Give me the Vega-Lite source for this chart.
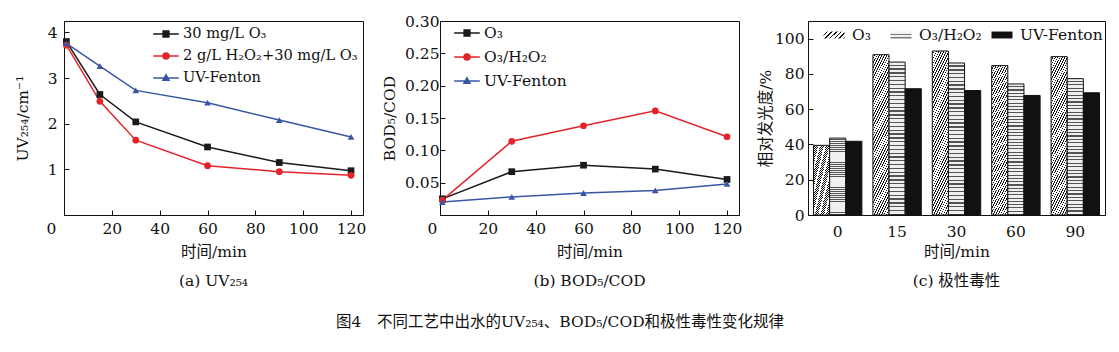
{
 "$schema": "https://vega.github.io/schema/vega-lite/v6.json",
 "padding": {"left": 14, "top": 13, "right": 5, "bottom": 5},
 "background": "white",
 "spacing": 14,
 "title": {"text": "图4　不同工艺中出水的UV₂₅₄、BOD₅/COD和极性毒性变化规律", "orient": "bottom", "anchor": "middle", "offset": 25, "fontSize": 15.5, "fontWeight": "normal", "font": "DejaVu Serif, Noto Sans CJK SC", "color": "#111"},
 "resolve": {"scale": {"color": "independent", "shape": "independent", "stroke": "independent", "strokeDash": "independent"}, "legend": {"color": "independent", "shape": "independent", "stroke": "independent", "strokeDash": "independent"}},
 "config": {
  "font": "DejaVu Serif, Noto Sans CJK SC",
  "view": {"stroke": "#111", "strokeWidth": 1},
  "axis": {"grid": false, "domainColor": "#111", "tickColor": "#111", "tickSize": -5, "tickWidth": 1, "labelFont": "DejaVu Serif", "labelFontSize": 15.5, "labelColor": "#111", "titleFont": "DejaVu Serif, Noto Sans CJK SC", "titleFontSize": 15.5, "titleFontWeight": "normal", "titleColor": "#111"},
  "legend": {"labelFont": "DejaVu Serif", "labelFontSize": 15.5, "labelColor": "#111", "labelLimit": 320}
 },
 "datasets": {
  "uv": [
   {"time": 1, "uv": 3.80, "series": "30 mg/L O₃"},
   {"time": 15, "uv": 2.64, "series": "30 mg/L O₃"},
   {"time": 30, "uv": 2.04, "series": "30 mg/L O₃"},
   {"time": 60, "uv": 1.49, "series": "30 mg/L O₃"},
   {"time": 90, "uv": 1.15, "series": "30 mg/L O₃"},
   {"time": 120, "uv": 0.97, "series": "30 mg/L O₃"},
   {"time": 1, "uv": 3.72, "series": "2 g/L H₂O₂+30 mg/L O₃"},
   {"time": 15, "uv": 2.49, "series": "2 g/L H₂O₂+30 mg/L O₃"},
   {"time": 30, "uv": 1.64, "series": "2 g/L H₂O₂+30 mg/L O₃"},
   {"time": 60, "uv": 1.08, "series": "2 g/L H₂O₂+30 mg/L O₃"},
   {"time": 90, "uv": 0.95, "series": "2 g/L H₂O₂+30 mg/L O₃"},
   {"time": 120, "uv": 0.87, "series": "2 g/L H₂O₂+30 mg/L O₃"},
   {"time": 1, "uv": 3.76, "series": "UV-Fenton"},
   {"time": 15, "uv": 3.26, "series": "UV-Fenton"},
   {"time": 30, "uv": 2.73, "series": "UV-Fenton"},
   {"time": 60, "uv": 2.46, "series": "UV-Fenton"},
   {"time": 90, "uv": 2.08, "series": "UV-Fenton"},
   {"time": 120, "uv": 1.71, "series": "UV-Fenton"}
  ],
  "bod": [
   {"time": 1, "ratio": 0.025, "series": "O₃"},
   {"time": 30, "ratio": 0.067, "series": "O₃"},
   {"time": 60, "ratio": 0.077, "series": "O₃"},
   {"time": 90, "ratio": 0.071, "series": "O₃"},
   {"time": 120, "ratio": 0.055, "series": "O₃"},
   {"time": 1, "ratio": 0.023, "series": "O₃/H₂O₂"},
   {"time": 30, "ratio": 0.114, "series": "O₃/H₂O₂"},
   {"time": 60, "ratio": 0.138, "series": "O₃/H₂O₂"},
   {"time": 90, "ratio": 0.161, "series": "O₃/H₂O₂"},
   {"time": 120, "ratio": 0.121, "series": "O₃/H₂O₂"},
   {"time": 1, "ratio": 0.020, "series": "UV-Fenton"},
   {"time": 30, "ratio": 0.028, "series": "UV-Fenton"},
   {"time": 60, "ratio": 0.034, "series": "UV-Fenton"},
   {"time": 90, "ratio": 0.038, "series": "UV-Fenton"},
   {"time": 120, "ratio": 0.048, "series": "UV-Fenton"}
  ],
  "tox": [
   {"time": 0, "value": 39.5, "process": "O₃"},
   {"time": 0, "value": 43.6, "process": "O₃/H₂O₂"},
   {"time": 0, "value": 41.8, "process": "UV-Fenton"},
   {"time": 15, "value": 90.9, "process": "O₃"},
   {"time": 15, "value": 86.7, "process": "O₃/H₂O₂"},
   {"time": 15, "value": 71.6, "process": "UV-Fenton"},
   {"time": 30, "value": 93.0, "process": "O₃"},
   {"time": 30, "value": 86.2, "process": "O₃/H₂O₂"},
   {"time": 30, "value": 70.6, "process": "UV-Fenton"},
   {"time": 60, "value": 84.7, "process": "O₃"},
   {"time": 60, "value": 74.3, "process": "O₃/H₂O₂"},
   {"time": 60, "value": 67.8, "process": "UV-Fenton"},
   {"time": 90, "value": 89.8, "process": "O₃"},
   {"time": 90, "value": 77.3, "process": "O₃/H₂O₂"},
   {"time": 90, "value": 69.3, "process": "UV-Fenton"}
  ]
 },
 "hconcat": [
  {
   "width": 299, "height": 194,
   "data": {"name": "uv"},
   "title": {"text": "(a) UV₂₅₄", "orient": "bottom", "offset": 14, "fontSize": 15.5, "fontWeight": "normal", "font": "DejaVu Serif", "color": "#111"},
   "resolve": {"scale": {"color": "independent", "shape": "independent", "stroke": "independent"}, "legend": {"color": "independent", "shape": "independent", "stroke": "independent"}},
   "encoding": {
    "x": {"field": "time", "type": "quantitative", "scale": {"domain": [0, 125], "nice": false}, "axis": {"values": [0, 20, 40, 60, 80, 100, 120], "title": "时间/min", "labelFlush": false, "labelOffset": {"condition": {"test": "datum.value === 0", "value": -13}, "value": 0}, "labelPadding": 11, "titlePadding": 8}},
    "y": {"field": "uv", "type": "quantitative", "scale": {"domain": [0, 4.25], "nice": false}, "axis": {"values": [1, 2, 3, 4], "title": "UV₂₅₄/cm⁻¹", "labelPadding": 12, "titlePadding": 17}}
   },
   "layer": [
    {"mark": {"type": "line", "strokeWidth": 1.5},
     "encoding": {"color": {"field": "series", "type": "nominal", "scale": {"domain": ["30 mg/L O₃", "2 g/L H₂O₂+30 mg/L O₃", "UV-Fenton"], "range": ["#1a1a1a", "#e3242b", "#3b55a5"]}, "legend": null}}},
    {"mark": {"type": "point", "filled": true, "size": 45, "opacity": 1},
     "encoding": {
      "color": {"field": "series", "type": "nominal", "scale": {"domain": ["30 mg/L O₃", "2 g/L H₂O₂+30 mg/L O₃", "UV-Fenton"], "range": ["#1a1a1a", "#e3242b", "#3b55a5"]}, "legend": null},
      "shape": {"field": "series", "type": "nominal", "scale": {"domain": ["30 mg/L O₃", "2 g/L H₂O₂+30 mg/L O₃", "UV-Fenton"], "range": ["square", "circle", "triangle-up"]}, "legend": null}}},
    {"mark": {"type": "point", "filled": true, "size": 256, "opacity": 0, "strokeWidth": 1.5},
     "encoding": {
      "color": {"field": "series", "type": "nominal", "scale": {"domain": ["30 mg/L O₃", "2 g/L H₂O₂+30 mg/L O₃", "UV-Fenton"], "range": ["#1a1a1a", "#e3242b", "#3b55a5"]},
       "legend": {"title": null, "orient": "none", "legendX": 93, "legendY": 4, "symbolSize": 256, "symbolOpacity": 1, "symbolStrokeWidth": 1.5, "labelOffset": 8, "rowPadding": 6, "labelFontSize": 14.6}},
      "stroke": {"field": "series", "type": "nominal", "scale": {"domain": ["30 mg/L O₃", "2 g/L H₂O₂+30 mg/L O₃", "UV-Fenton"], "range": ["#1a1a1a", "#e3242b", "#3b55a5"]},
       "legend": {"title": null, "orient": "none", "legendX": 93, "legendY": 4, "symbolSize": 256, "symbolOpacity": 1, "symbolStrokeWidth": 1.5, "labelOffset": 8, "rowPadding": 6, "labelFontSize": 14.6}},
      "shape": {"field": "series", "type": "nominal", "scale": {"domain": ["30 mg/L O₃", "2 g/L H₂O₂+30 mg/L O₃", "UV-Fenton"], "range": ["M-1.6,0H1.6M-0.36,-0.36H0.36V0.36H-0.36Z", "M-1.6,0H1.6M0.38,0A0.38,0.38 0 1,1 -0.38,0A0.38,0.38 0 1,1 0.38,0Z", "M-1.6,0H1.6M0,-0.4L0.38,0.28H-0.38Z"]},
       "legend": {"title": null, "orient": "none", "legendX": 93, "legendY": 4, "symbolSize": 256, "symbolOpacity": 1, "symbolStrokeWidth": 1.5, "labelOffset": 8, "rowPadding": 6, "labelFontSize": 14.6}}}}
   ]
  },
  {
   "width": 299, "height": 194,
   "data": {"name": "bod"},
   "title": {"text": "(b) BOD₅/COD", "orient": "bottom", "offset": 14, "fontSize": 15.5, "fontWeight": "normal", "font": "DejaVu Serif", "color": "#111"},
   "resolve": {"scale": {"color": "independent", "shape": "independent", "stroke": "independent"}, "legend": {"color": "independent", "shape": "independent", "stroke": "independent"}},
   "encoding": {
    "x": {"field": "time", "type": "quantitative", "scale": {"domain": [0, 125], "nice": false}, "axis": {"values": [0, 20, 40, 60, 80, 100, 120], "title": "时间/min", "labelFlush": false, "labelOffset": {"condition": {"test": "datum.value === 0", "value": -8}, "value": 0}, "labelPadding": 11, "titlePadding": 8}},
    "y": {"field": "ratio", "type": "quantitative", "scale": {"domain": [0, 0.3], "nice": false}, "axis": {"values": [0.05, 0.1, 0.15, 0.2, 0.25, 0.3], "format": ".2f", "title": "BOD₅/COD", "labelPadding": 6, "titlePadding": 7}}
   },
   "layer": [
    {"mark": {"type": "line", "strokeWidth": 1.5},
     "encoding": {"color": {"field": "series", "type": "nominal", "scale": {"domain": ["O₃", "O₃/H₂O₂", "UV-Fenton"], "range": ["#1a1a1a", "#e3242b", "#3b55a5"]}, "legend": null}}},
    {"mark": {"type": "point", "filled": true, "size": 45, "opacity": 1},
     "encoding": {
      "color": {"field": "series", "type": "nominal", "scale": {"domain": ["O₃", "O₃/H₂O₂", "UV-Fenton"], "range": ["#1a1a1a", "#e3242b", "#3b55a5"]}, "legend": null},
      "shape": {"field": "series", "type": "nominal", "scale": {"domain": ["O₃", "O₃/H₂O₂", "UV-Fenton"], "range": ["square", "circle", "triangle-up"]}, "legend": null}}},
    {"mark": {"type": "point", "filled": true, "size": 256, "opacity": 0, "strokeWidth": 1.5},
     "encoding": {
      "color": {"field": "series", "type": "nominal", "scale": {"domain": ["O₃", "O₃/H₂O₂", "UV-Fenton"], "range": ["#1a1a1a", "#e3242b", "#3b55a5"]},
       "legend": {"title": null, "orient": "none", "legendX": 18, "legendY": 3, "symbolSize": 256, "symbolOpacity": 1, "symbolStrokeWidth": 1.5, "labelOffset": 8, "rowPadding": 6}},
      "stroke": {"field": "series", "type": "nominal", "scale": {"domain": ["O₃", "O₃/H₂O₂", "UV-Fenton"], "range": ["#1a1a1a", "#e3242b", "#3b55a5"]},
       "legend": {"title": null, "orient": "none", "legendX": 18, "legendY": 3, "symbolSize": 256, "symbolOpacity": 1, "symbolStrokeWidth": 1.5, "labelOffset": 8, "rowPadding": 6}},
      "shape": {"field": "series", "type": "nominal", "scale": {"domain": ["O₃", "O₃/H₂O₂", "UV-Fenton"], "range": ["M-1.6,0H1.6M-0.36,-0.36H0.36V0.36H-0.36Z", "M-1.6,0H1.6M0.38,0A0.38,0.38 0 1,1 -0.38,0A0.38,0.38 0 1,1 0.38,0Z", "M-1.6,0H1.6M0,-0.4L0.38,0.28H-0.38Z"]},
       "legend": {"title": null, "orient": "none", "legendX": 18, "legendY": 3, "symbolSize": 256, "symbolOpacity": 1, "symbolStrokeWidth": 1.5, "labelOffset": 8, "rowPadding": 6}}}}
   ]
  },
  {
   "width": 297, "height": 194,
   "data": {"name": "tox"},
   "title": {"text": "(c) 极性毒性", "orient": "bottom", "offset": 14, "fontSize": 15.5, "fontWeight": "normal", "font": "DejaVu Serif, Noto Sans CJK SC", "color": "#111"},
   "resolve": {"scale": {"strokeDash": "independent"}, "legend": {"strokeDash": "independent"}},
   "encoding": {
    "x": {"field": "time", "type": "ordinal", "scale": {"domain": [0, 15, 30, 60, 90], "paddingInner": 0.185, "paddingOuter": 0.0925}, "axis": {"labelAngle": 0, "ticks": false, "title": "时间/min", "labelPadding": 9, "titlePadding": 5}},
    "xOffset": {"field": "process", "type": "nominal", "scale": {"domain": ["O₃", "O₃/H₂O₂", "UV-Fenton"], "paddingInner": 0, "paddingOuter": 0}},
    "y": {"field": "value", "type": "quantitative", "scale": {"domain": [0, 110], "nice": false}, "axis": {"values": [0, 20, 40, 60, 80, 100], "title": "相对发光度/%", "labelPadding": 9, "titlePadding": 1}}
   },
   "layer": [
    {"transform": [{"filter": "datum.process === 'O₃'"}],
     "mark": {"type": "bar", "stroke": "#111", "strokeWidth": 1,
      "fill": {"gradient": "linear", "x1": 0, "y1": 0, "x2": 0.23, "y2": 1.154, "stops": [
       {"offset": 0, "color": "#fff"}, {"offset": 0.0165, "color": "#fff"}, {"offset": 0.0165, "color": "#111"}, {"offset": 0.025, "color": "#111"},
       {"offset": 0.025, "color": "#fff"}, {"offset": 0.0415, "color": "#fff"}, {"offset": 0.0415, "color": "#111"}, {"offset": 0.05, "color": "#111"},
       {"offset": 0.05, "color": "#fff"}, {"offset": 0.0665, "color": "#fff"}, {"offset": 0.0665, "color": "#111"}, {"offset": 0.075, "color": "#111"},
       {"offset": 0.075, "color": "#fff"}, {"offset": 0.0915, "color": "#fff"}, {"offset": 0.0915, "color": "#111"}, {"offset": 0.1, "color": "#111"},
       {"offset": 0.1, "color": "#fff"}, {"offset": 0.1165, "color": "#fff"}, {"offset": 0.1165, "color": "#111"}, {"offset": 0.125, "color": "#111"},
       {"offset": 0.125, "color": "#fff"}, {"offset": 0.1415, "color": "#fff"}, {"offset": 0.1415, "color": "#111"}, {"offset": 0.15, "color": "#111"},
       {"offset": 0.15, "color": "#fff"}, {"offset": 0.1665, "color": "#fff"}, {"offset": 0.1665, "color": "#111"}, {"offset": 0.175, "color": "#111"},
       {"offset": 0.175, "color": "#fff"}, {"offset": 0.1915, "color": "#fff"}, {"offset": 0.1915, "color": "#111"}, {"offset": 0.2, "color": "#111"},
       {"offset": 0.2, "color": "#fff"}, {"offset": 0.2165, "color": "#fff"}, {"offset": 0.2165, "color": "#111"}, {"offset": 0.225, "color": "#111"},
       {"offset": 0.225, "color": "#fff"}, {"offset": 0.2415, "color": "#fff"}, {"offset": 0.2415, "color": "#111"}, {"offset": 0.25, "color": "#111"},
       {"offset": 0.25, "color": "#fff"}, {"offset": 0.2665, "color": "#fff"}, {"offset": 0.2665, "color": "#111"}, {"offset": 0.275, "color": "#111"},
       {"offset": 0.275, "color": "#fff"}, {"offset": 0.2915, "color": "#fff"}, {"offset": 0.2915, "color": "#111"}, {"offset": 0.3, "color": "#111"},
       {"offset": 0.3, "color": "#fff"}, {"offset": 0.3165, "color": "#fff"}, {"offset": 0.3165, "color": "#111"}, {"offset": 0.325, "color": "#111"},
       {"offset": 0.325, "color": "#fff"}, {"offset": 0.3415, "color": "#fff"}, {"offset": 0.3415, "color": "#111"}, {"offset": 0.35, "color": "#111"},
       {"offset": 0.35, "color": "#fff"}, {"offset": 0.3665, "color": "#fff"}, {"offset": 0.3665, "color": "#111"}, {"offset": 0.375, "color": "#111"},
       {"offset": 0.375, "color": "#fff"}, {"offset": 0.3915, "color": "#fff"}, {"offset": 0.3915, "color": "#111"}, {"offset": 0.4, "color": "#111"},
       {"offset": 0.4, "color": "#fff"}, {"offset": 0.4165, "color": "#fff"}, {"offset": 0.4165, "color": "#111"}, {"offset": 0.425, "color": "#111"},
       {"offset": 0.425, "color": "#fff"}, {"offset": 0.4415, "color": "#fff"}, {"offset": 0.4415, "color": "#111"}, {"offset": 0.45, "color": "#111"},
       {"offset": 0.45, "color": "#fff"}, {"offset": 0.4665, "color": "#fff"}, {"offset": 0.4665, "color": "#111"}, {"offset": 0.475, "color": "#111"},
       {"offset": 0.475, "color": "#fff"}, {"offset": 0.4915, "color": "#fff"}, {"offset": 0.4915, "color": "#111"}, {"offset": 0.5, "color": "#111"},
       {"offset": 0.5, "color": "#fff"}, {"offset": 0.5165, "color": "#fff"}, {"offset": 0.5165, "color": "#111"}, {"offset": 0.525, "color": "#111"},
       {"offset": 0.525, "color": "#fff"}, {"offset": 0.5415, "color": "#fff"}, {"offset": 0.5415, "color": "#111"}, {"offset": 0.55, "color": "#111"},
       {"offset": 0.55, "color": "#fff"}, {"offset": 0.5665, "color": "#fff"}, {"offset": 0.5665, "color": "#111"}, {"offset": 0.575, "color": "#111"},
       {"offset": 0.575, "color": "#fff"}, {"offset": 0.5915, "color": "#fff"}, {"offset": 0.5915, "color": "#111"}, {"offset": 0.6, "color": "#111"},
       {"offset": 0.6, "color": "#fff"}, {"offset": 0.6165, "color": "#fff"}, {"offset": 0.6165, "color": "#111"}, {"offset": 0.625, "color": "#111"},
       {"offset": 0.625, "color": "#fff"}, {"offset": 0.6415, "color": "#fff"}, {"offset": 0.6415, "color": "#111"}, {"offset": 0.65, "color": "#111"},
       {"offset": 0.65, "color": "#fff"}, {"offset": 0.6665, "color": "#fff"}, {"offset": 0.6665, "color": "#111"}, {"offset": 0.675, "color": "#111"},
       {"offset": 0.675, "color": "#fff"}, {"offset": 0.6915, "color": "#fff"}, {"offset": 0.6915, "color": "#111"}, {"offset": 0.7, "color": "#111"},
       {"offset": 0.7, "color": "#fff"}, {"offset": 0.7165, "color": "#fff"}, {"offset": 0.7165, "color": "#111"}, {"offset": 0.725, "color": "#111"},
       {"offset": 0.725, "color": "#fff"}, {"offset": 0.7415, "color": "#fff"}, {"offset": 0.7415, "color": "#111"}, {"offset": 0.75, "color": "#111"},
       {"offset": 0.75, "color": "#fff"}, {"offset": 0.7665, "color": "#fff"}, {"offset": 0.7665, "color": "#111"}, {"offset": 0.775, "color": "#111"},
       {"offset": 0.775, "color": "#fff"}, {"offset": 0.7915, "color": "#fff"}, {"offset": 0.7915, "color": "#111"}, {"offset": 0.8, "color": "#111"},
       {"offset": 0.8, "color": "#fff"}, {"offset": 0.8165, "color": "#fff"}, {"offset": 0.8165, "color": "#111"}, {"offset": 0.825, "color": "#111"},
       {"offset": 0.825, "color": "#fff"}, {"offset": 0.8415, "color": "#fff"}, {"offset": 0.8415, "color": "#111"}, {"offset": 0.85, "color": "#111"},
       {"offset": 0.85, "color": "#fff"}, {"offset": 0.8665, "color": "#fff"}, {"offset": 0.8665, "color": "#111"}, {"offset": 0.875, "color": "#111"},
       {"offset": 0.875, "color": "#fff"}, {"offset": 0.8915, "color": "#fff"}, {"offset": 0.8915, "color": "#111"}, {"offset": 0.9, "color": "#111"},
       {"offset": 0.9, "color": "#fff"}, {"offset": 0.9165, "color": "#fff"}, {"offset": 0.9165, "color": "#111"}, {"offset": 0.925, "color": "#111"},
       {"offset": 0.925, "color": "#fff"}, {"offset": 0.9415, "color": "#fff"}, {"offset": 0.9415, "color": "#111"}, {"offset": 0.95, "color": "#111"},
       {"offset": 0.95, "color": "#fff"}, {"offset": 0.9665, "color": "#fff"}, {"offset": 0.9665, "color": "#111"}, {"offset": 0.975, "color": "#111"},
       {"offset": 0.975, "color": "#fff"}, {"offset": 0.9915, "color": "#fff"}, {"offset": 0.9915, "color": "#111"}, {"offset": 1, "color": "#111"}
      ]}}},
    {"transform": [{"filter": "datum.process === 'O₃/H₂O₂'"}],
     "mark": {"type": "bar", "stroke": "#111", "strokeWidth": 1,
      "fill": {"gradient": "linear", "x1": 0, "y1": 0, "x2": 0, "y2": 1, "stops": [
       {"offset": 0, "color": "#f0f0f0"}, {"offset": 0.0165, "color": "#f0f0f0"}, {"offset": 0.0165, "color": "#555"}, {"offset": 0.025, "color": "#555"},
       {"offset": 0.025, "color": "#f0f0f0"}, {"offset": 0.0415, "color": "#f0f0f0"}, {"offset": 0.0415, "color": "#555"}, {"offset": 0.05, "color": "#555"},
       {"offset": 0.05, "color": "#f0f0f0"}, {"offset": 0.0665, "color": "#f0f0f0"}, {"offset": 0.0665, "color": "#555"}, {"offset": 0.075, "color": "#555"},
       {"offset": 0.075, "color": "#f0f0f0"}, {"offset": 0.0915, "color": "#f0f0f0"}, {"offset": 0.0915, "color": "#555"}, {"offset": 0.1, "color": "#555"},
       {"offset": 0.1, "color": "#f0f0f0"}, {"offset": 0.1165, "color": "#f0f0f0"}, {"offset": 0.1165, "color": "#555"}, {"offset": 0.125, "color": "#555"},
       {"offset": 0.125, "color": "#f0f0f0"}, {"offset": 0.1415, "color": "#f0f0f0"}, {"offset": 0.1415, "color": "#555"}, {"offset": 0.15, "color": "#555"},
       {"offset": 0.15, "color": "#f0f0f0"}, {"offset": 0.1665, "color": "#f0f0f0"}, {"offset": 0.1665, "color": "#555"}, {"offset": 0.175, "color": "#555"},
       {"offset": 0.175, "color": "#f0f0f0"}, {"offset": 0.1915, "color": "#f0f0f0"}, {"offset": 0.1915, "color": "#555"}, {"offset": 0.2, "color": "#555"},
       {"offset": 0.2, "color": "#f0f0f0"}, {"offset": 0.2165, "color": "#f0f0f0"}, {"offset": 0.2165, "color": "#555"}, {"offset": 0.225, "color": "#555"},
       {"offset": 0.225, "color": "#f0f0f0"}, {"offset": 0.2415, "color": "#f0f0f0"}, {"offset": 0.2415, "color": "#555"}, {"offset": 0.25, "color": "#555"},
       {"offset": 0.25, "color": "#f0f0f0"}, {"offset": 0.2665, "color": "#f0f0f0"}, {"offset": 0.2665, "color": "#555"}, {"offset": 0.275, "color": "#555"},
       {"offset": 0.275, "color": "#f0f0f0"}, {"offset": 0.2915, "color": "#f0f0f0"}, {"offset": 0.2915, "color": "#555"}, {"offset": 0.3, "color": "#555"},
       {"offset": 0.3, "color": "#f0f0f0"}, {"offset": 0.3165, "color": "#f0f0f0"}, {"offset": 0.3165, "color": "#555"}, {"offset": 0.325, "color": "#555"},
       {"offset": 0.325, "color": "#f0f0f0"}, {"offset": 0.3415, "color": "#f0f0f0"}, {"offset": 0.3415, "color": "#555"}, {"offset": 0.35, "color": "#555"},
       {"offset": 0.35, "color": "#f0f0f0"}, {"offset": 0.3665, "color": "#f0f0f0"}, {"offset": 0.3665, "color": "#555"}, {"offset": 0.375, "color": "#555"},
       {"offset": 0.375, "color": "#f0f0f0"}, {"offset": 0.3915, "color": "#f0f0f0"}, {"offset": 0.3915, "color": "#555"}, {"offset": 0.4, "color": "#555"},
       {"offset": 0.4, "color": "#f0f0f0"}, {"offset": 0.4165, "color": "#f0f0f0"}, {"offset": 0.4165, "color": "#555"}, {"offset": 0.425, "color": "#555"},
       {"offset": 0.425, "color": "#f0f0f0"}, {"offset": 0.4415, "color": "#f0f0f0"}, {"offset": 0.4415, "color": "#555"}, {"offset": 0.45, "color": "#555"},
       {"offset": 0.45, "color": "#f0f0f0"}, {"offset": 0.4665, "color": "#f0f0f0"}, {"offset": 0.4665, "color": "#555"}, {"offset": 0.475, "color": "#555"},
       {"offset": 0.475, "color": "#f0f0f0"}, {"offset": 0.4915, "color": "#f0f0f0"}, {"offset": 0.4915, "color": "#555"}, {"offset": 0.5, "color": "#555"},
       {"offset": 0.5, "color": "#f0f0f0"}, {"offset": 0.5165, "color": "#f0f0f0"}, {"offset": 0.5165, "color": "#555"}, {"offset": 0.525, "color": "#555"},
       {"offset": 0.525, "color": "#f0f0f0"}, {"offset": 0.5415, "color": "#f0f0f0"}, {"offset": 0.5415, "color": "#555"}, {"offset": 0.55, "color": "#555"},
       {"offset": 0.55, "color": "#f0f0f0"}, {"offset": 0.5665, "color": "#f0f0f0"}, {"offset": 0.5665, "color": "#555"}, {"offset": 0.575, "color": "#555"},
       {"offset": 0.575, "color": "#f0f0f0"}, {"offset": 0.5915, "color": "#f0f0f0"}, {"offset": 0.5915, "color": "#555"}, {"offset": 0.6, "color": "#555"},
       {"offset": 0.6, "color": "#f0f0f0"}, {"offset": 0.6165, "color": "#f0f0f0"}, {"offset": 0.6165, "color": "#555"}, {"offset": 0.625, "color": "#555"},
       {"offset": 0.625, "color": "#f0f0f0"}, {"offset": 0.6415, "color": "#f0f0f0"}, {"offset": 0.6415, "color": "#555"}, {"offset": 0.65, "color": "#555"},
       {"offset": 0.65, "color": "#f0f0f0"}, {"offset": 0.6665, "color": "#f0f0f0"}, {"offset": 0.6665, "color": "#555"}, {"offset": 0.675, "color": "#555"},
       {"offset": 0.675, "color": "#f0f0f0"}, {"offset": 0.6915, "color": "#f0f0f0"}, {"offset": 0.6915, "color": "#555"}, {"offset": 0.7, "color": "#555"},
       {"offset": 0.7, "color": "#f0f0f0"}, {"offset": 0.7165, "color": "#f0f0f0"}, {"offset": 0.7165, "color": "#555"}, {"offset": 0.725, "color": "#555"},
       {"offset": 0.725, "color": "#f0f0f0"}, {"offset": 0.7415, "color": "#f0f0f0"}, {"offset": 0.7415, "color": "#555"}, {"offset": 0.75, "color": "#555"},
       {"offset": 0.75, "color": "#f0f0f0"}, {"offset": 0.7665, "color": "#f0f0f0"}, {"offset": 0.7665, "color": "#555"}, {"offset": 0.775, "color": "#555"},
       {"offset": 0.775, "color": "#f0f0f0"}, {"offset": 0.7915, "color": "#f0f0f0"}, {"offset": 0.7915, "color": "#555"}, {"offset": 0.8, "color": "#555"},
       {"offset": 0.8, "color": "#f0f0f0"}, {"offset": 0.8165, "color": "#f0f0f0"}, {"offset": 0.8165, "color": "#555"}, {"offset": 0.825, "color": "#555"},
       {"offset": 0.825, "color": "#f0f0f0"}, {"offset": 0.8415, "color": "#f0f0f0"}, {"offset": 0.8415, "color": "#555"}, {"offset": 0.85, "color": "#555"},
       {"offset": 0.85, "color": "#f0f0f0"}, {"offset": 0.8665, "color": "#f0f0f0"}, {"offset": 0.8665, "color": "#555"}, {"offset": 0.875, "color": "#555"},
       {"offset": 0.875, "color": "#f0f0f0"}, {"offset": 0.8915, "color": "#f0f0f0"}, {"offset": 0.8915, "color": "#555"}, {"offset": 0.9, "color": "#555"},
       {"offset": 0.9, "color": "#f0f0f0"}, {"offset": 0.9165, "color": "#f0f0f0"}, {"offset": 0.9165, "color": "#555"}, {"offset": 0.925, "color": "#555"},
       {"offset": 0.925, "color": "#f0f0f0"}, {"offset": 0.9415, "color": "#f0f0f0"}, {"offset": 0.9415, "color": "#555"}, {"offset": 0.95, "color": "#555"},
       {"offset": 0.95, "color": "#f0f0f0"}, {"offset": 0.9665, "color": "#f0f0f0"}, {"offset": 0.9665, "color": "#555"}, {"offset": 0.975, "color": "#555"},
       {"offset": 0.975, "color": "#f0f0f0"}, {"offset": 0.9915, "color": "#f0f0f0"}, {"offset": 0.9915, "color": "#555"}, {"offset": 1, "color": "#555"}
      ]}}},
    {"transform": [{"filter": "datum.process === 'UV-Fenton'"}],
     "mark": {"type": "bar", "stroke": "#111", "strokeWidth": 1, "fill": "#111"}},
    {"transform": [{"filter": "datum.process === 'O₃'"}],
     "mark": {"type": "bar", "opacity": 0, "stroke": "#111", "strokeWidth": 1,
      "fill": {"gradient": "linear", "x1": 0, "y1": 0, "x2": 1.2, "y2": 0.4, "stops": [
       {"offset": 0, "color": "#fff"}, {"offset": 0.11, "color": "#fff"}, {"offset": 0.11, "color": "#111"}, {"offset": 0.167, "color": "#111"},
       {"offset": 0.167, "color": "#fff"}, {"offset": 0.277, "color": "#fff"}, {"offset": 0.277, "color": "#111"}, {"offset": 0.333, "color": "#111"},
       {"offset": 0.333, "color": "#fff"}, {"offset": 0.443, "color": "#fff"}, {"offset": 0.443, "color": "#111"}, {"offset": 0.5, "color": "#111"},
       {"offset": 0.5, "color": "#fff"}, {"offset": 0.61, "color": "#fff"}, {"offset": 0.61, "color": "#111"}, {"offset": 0.667, "color": "#111"},
       {"offset": 0.667, "color": "#fff"}, {"offset": 0.777, "color": "#fff"}, {"offset": 0.777, "color": "#111"}, {"offset": 0.833, "color": "#111"},
       {"offset": 0.833, "color": "#fff"}, {"offset": 0.943, "color": "#fff"}, {"offset": 0.943, "color": "#111"}, {"offset": 1, "color": "#111"}]}},
     "encoding": {"strokeDash": {"field": "process", "type": "nominal", "scale": {"domain": ["O₃"], "range": [[1, 0]]},
      "legend": {"title": null, "orient": "none", "legendX": 15, "legendY": 3, "symbolType": "M-1,-0.33H1V0.33H-1Z", "symbolSize": 441, "symbolOpacity": 1, "symbolStrokeColor": "#111", "symbolStrokeWidth": 1, "labelOffset": 7}}}},
    {"transform": [{"filter": "datum.process === 'O₃/H₂O₂'"}],
     "mark": {"type": "bar", "opacity": 0, "stroke": "#111", "strokeWidth": 1,
      "fill": {"gradient": "linear", "x1": 0, "y1": 0, "x2": 0, "y2": 1, "stops": [
       {"offset": 0, "color": "#f0f0f0"}, {"offset": 0.3, "color": "#f0f0f0"}, {"offset": 0.3, "color": "#777"}, {"offset": 0.45, "color": "#777"},
       {"offset": 0.45, "color": "#f0f0f0"}, {"offset": 0.75, "color": "#f0f0f0"}, {"offset": 0.75, "color": "#777"}, {"offset": 1, "color": "#777"}]}},
     "encoding": {"strokeDash": {"field": "process", "type": "nominal", "scale": {"domain": ["O₃/H₂O₂"], "range": [[1, 0]]},
      "legend": {"title": null, "orient": "none", "legendX": 82, "legendY": 3, "symbolType": "M-1,-0.33H1V0.33H-1Z", "symbolSize": 441, "symbolOpacity": 1, "symbolStrokeColor": "#111", "symbolStrokeWidth": 1, "labelOffset": 7}}}},
    {"transform": [{"filter": "datum.process === 'UV-Fenton'"}],
     "mark": {"type": "bar", "opacity": 0, "stroke": "#111", "strokeWidth": 1, "fill": "#111"},
     "encoding": {"strokeDash": {"field": "process", "type": "nominal", "scale": {"domain": ["UV-Fenton"], "range": [[1, 0]]},
      "legend": {"title": null, "orient": "none", "legendX": 183, "legendY": 3, "symbolType": "M-1,-0.33H1V0.33H-1Z", "symbolSize": 441, "symbolOpacity": 1, "symbolStrokeColor": "#111", "symbolStrokeWidth": 1, "labelOffset": 7}}}}
   ]
  }
 ]
}
